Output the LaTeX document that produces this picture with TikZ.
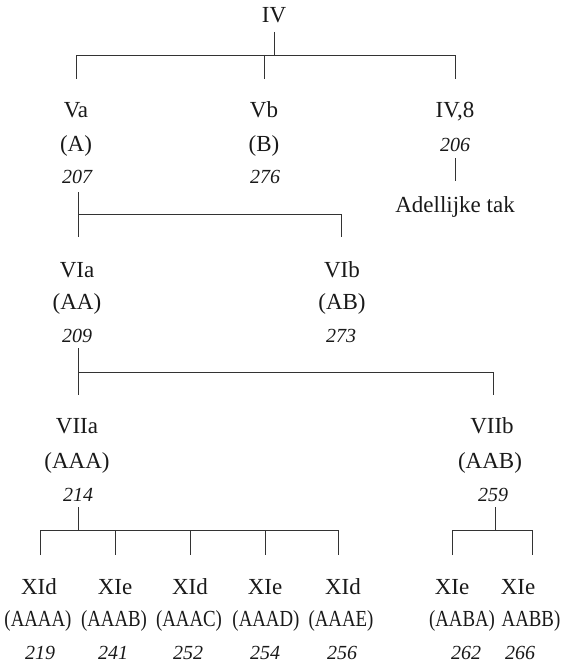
\documentclass[tikz,border=0pt]{standalone}
\usepackage{fontspec}
\setmainfont{Liberation Serif}
\newfontfamily\narrowfont[FakeStretch=0.82]{Liberation Serif}
\begin{document}
\begin{tikzpicture}[x=1pt,y=-1pt,
  lbl/.style={anchor=base,inner sep=0pt,font=\fontsize{23}{27}\selectfont,text=black!90},
  nar/.style={lbl,font=\fontsize{23}{27}\selectfont\narrowfont},
  num/.style={lbl,font=\fontsize{20}{24}\selectfont\itshape},
  conn/.style={draw=black!80,line width=0.85pt}]
\useasboundingbox (0,0) rectangle (565,663);
% level IV
\node[lbl] (iv) at (274,23) {IV};
% level V
\node[lbl] (va) at (76,118) {Va};
\node[lbl] (vaA) at (76,152) {(A)};
\node[num] (va207) at (77,183) {207};
\node[lbl] (vb) at (264,118) {Vb};
\node[lbl] (vbB) at (264,152) {(B)};
\node[num] (vb276) at (265,183) {276};
\node[lbl] (iv8) at (455,118) {IV,8};
\node[num] (iv206) at (455,152) {206};
\node[lbl] (adel) at (455,212) {Adellijke tak};
% level VI
\node[lbl] (via) at (77,277) {VIa};
\node[lbl] (viaAA) at (77,309) {(AA)};
\node[num] (via209) at (77,342) {209};
\node[lbl] (vib) at (342,277) {VIb};
\node[lbl] (vibAB) at (342,309) {(AB)};
\node[num] (vib273) at (341,342) {273};
% level VII
\node[lbl] (viia) at (77,433) {VIIa};
\node[lbl] (viiaAAA) at (77,468) {(AAA)};
\node[num] (viia214) at (78,501) {214};
\node[lbl] (viib) at (492,433) {VIIb};
\node[lbl] (viibAAB) at (490,468) {(AAB)};
\node[num] (viib259) at (493,501) {259};
% level XI
\foreach \n/\xa/\xb/\xc/\a/\b/\c in {x1/39/38/40/XId/(AAAA)/219, x2/115/114/113/XIe/(AAAB)/241, x3/190/189/188/XId/(AAAC)/252, x4/265/266/265/XIe/(AAAD)/254, x5/343/341/342/XId/(AAAE)/256, x6/452/462/466/XIe/(AABA)/262, x7/518/531/520/XIe/AABB)/266}{
  \node[lbl] (\n a) at (\xa,594) {\a};
  \node[nar] (\n b) at (\xb,626) {\b};
  \node[num] (\n c) at (\xc,659) {\c};
}
% connectors
\coordinate (j1) at (274,55);
\draw[conn] (274,32) -- (j1);
\draw[conn] (76,79) -- (76,55) -- (455,55) -- (455,79);
\draw[conn] (264,55) -- (264,79);
\draw[conn] (455,158) -- (455,181);
\draw[conn] (78,192) -- (78,237);
\draw[conn] (78,214) -- (341,214) -- (341,237);
\draw[conn] (78,348) -- (78,395);
\draw[conn] (78,372) -- (493,372) -- (493,395);
\draw[conn] (78,507) -- (78,530);
\draw[conn] (40,555) -- (40,530) -- (338,530) -- (338,555);
\foreach \x in {115,190,265} \draw[conn] (\x,530) -- (\x,555);
\draw[conn] (495,507) -- (495,530);
\draw[conn] (452,555) -- (452,530) -- (532,530) -- (532,555);
\end{tikzpicture}
\end{document}
